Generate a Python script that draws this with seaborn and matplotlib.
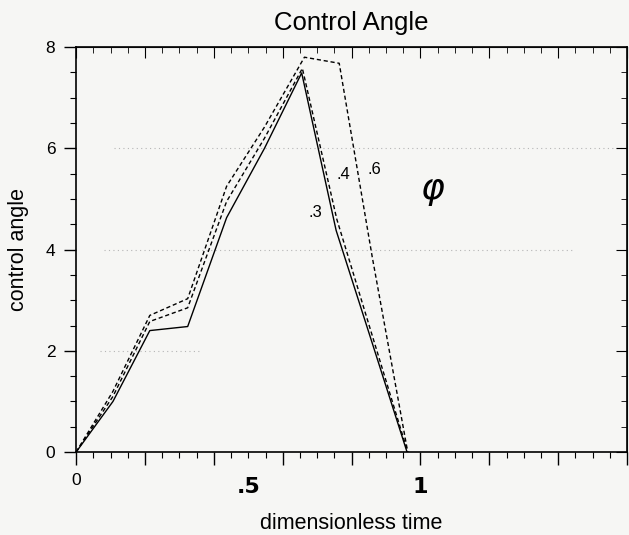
import pandas as pd
import seaborn as sns
import matplotlib.pyplot as plt
from matplotlib.ticker import MultipleLocator

# time nodes and control angle for each case
t_03 = [0, 0.107, 0.214, 0.324, 0.437, 0.547, 0.655, 0.755, 0.86, 0.961]
phi_03 = [0, 1.0, 2.4, 2.48, 4.63, 6.0, 7.49, 4.38, 2.15, 0]

t_04 = [0, 0.107, 0.214, 0.324, 0.437, 0.547, 0.657, 0.757, 0.86, 0.963]
phi_04 = [0, 1.1, 2.58, 2.85, 4.95, 6.2, 7.58, 4.6, 2.3, 0]

t_06 = [0, 0.107, 0.214, 0.324, 0.437, 0.547, 0.663, 0.764, 0.86, 0.963]
phi_06 = [0, 1.2, 2.7, 3.03, 5.25, 6.42, 7.8, 7.68, 3.85, 0]

cases = ['.3', '.4', '.6']

# faint dotted grid pieces that survived the print: (level, start, end)
grid_y = [2, 4, 6]
grid_x0 = [0.07, 0.08, 0.11]
grid_x1 = [0.36, 1.45, 1.6]

df = pd.concat([
    pd.DataFrame({'t': t_03, 'phi': phi_03, 'case': '.3'}),
    pd.DataFrame({'t': t_04, 'phi': phi_04, 'case': '.4'}),
    pd.DataFrame({'t': t_06, 'phi': phi_06, 'case': '.6'}),
])

sns.set_style('white', {'xtick.bottom': True, 'ytick.left': True,
                        'text.color': 'black', 'axes.labelcolor': 'black',
                        'xtick.color': 'black', 'ytick.color': 'black'})
plt.rcParams['font.family'] = ['Liberation Sans', 'DejaVu Sans']

bg = '#f6f6f4'
fig = plt.figure(figsize=(6.29, 5.35), dpi=100, facecolor=bg)
ax = fig.add_axes([0.121, 0.155, 0.876, 0.757])
ax.set_facecolor(bg)

sns.lineplot(data=df, x='t', y='phi', hue='case', style='case',
             palette={c: 'black' for c in cases},
             dashes={'.3': '', '.4': (3, 2), '.6': (3, 2)},
             estimator=None, sort=False, linewidth=1.0, legend=False, ax=ax)

ax.hlines(grid_y, grid_x0, grid_x1, colors='#b5b5b5', lw=0.8,
          linestyles=(0, (1, 3)), zorder=0)

ax.set_xlim(0, 1.6)
ax.set_ylim(0, 8)
ax.xaxis.set_major_locator(MultipleLocator(0.2))
ax.xaxis.set_minor_locator(MultipleLocator(0.05))
ax.yaxis.set_major_locator(MultipleLocator(2))
ax.yaxis.set_minor_locator(MultipleLocator(0.5))
ax.tick_params(which='both', bottom=True, left=True, colors='black')
ax.tick_params(which='major', direction='out', length=9, width=1, labelsize=12.5, pad=6)
ax.tick_params(which='minor', direction='out', length=4.5, width=0.8)
ax.set_xticks([0, 0.2, 0.4, 0.6, 0.8, 1.0, 1.2, 1.4, 1.6])
ax.set_xticklabels(['0', '', '', '', '', '', '', '', ''])

# top/right ticks point inward
top = ax.secondary_xaxis('top')
top.xaxis.set_major_locator(MultipleLocator(0.2))
top.xaxis.set_minor_locator(MultipleLocator(0.05))
top.tick_params(which='major', direction='in', length=8, labeltop=False)
top.tick_params(which='minor', direction='in', length=4)
right = ax.secondary_yaxis('right')
right.yaxis.set_major_locator(MultipleLocator(2))
right.yaxis.set_minor_locator(MultipleLocator(0.5))
right.tick_params(which='major', direction='in', length=8, labelright=False)
right.tick_params(which='minor', direction='in', length=4)

for s in ax.spines.values():
    s.set_color('black')
    s.set_linewidth(1.2)
    s.set_visible(True)

# hand-written tick labels
ax.text(0.5, -0.5, '.5', fontsize=16, fontweight='bold', ha='center', va='top',
        family=['DejaVu Sans'])
ax.text(1.0, -0.5, '1', fontsize=16, fontweight='bold', ha='center', va='top',
        family=['DejaVu Sans'])

# hand-written case labels
ax.text(0.675, 4.65, '.3', fontsize=12)
ax.text(0.755, 5.4, '.4', fontsize=12)
ax.text(0.845, 5.5, '.6', fontsize=12)
ax.text(1.0, 5.0, 'φ', fontsize=26, style='italic', family=['DejaVu Sans'])

ax.set_title('Control Angle', fontsize=18.5, pad=12)
ax.set_xlabel('dimensionless time', fontsize=15.5, labelpad=18)
ax.set_ylabel('control angle', fontsize=15.5, labelpad=12)

fig.savefig('out.png', dpi=100, facecolor=fig.get_facecolor())
